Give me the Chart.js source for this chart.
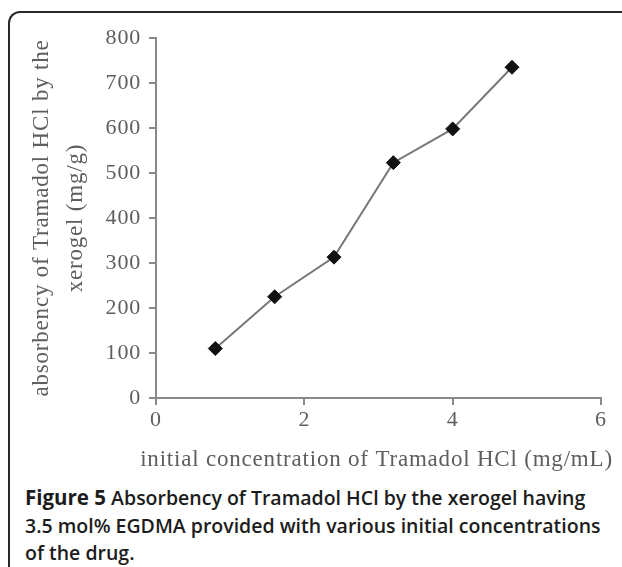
<!DOCTYPE html>
<html>
<head>
<meta charset="utf-8">
<script src="https://cdn.jsdelivr.net/npm/chart.js@4/dist/chart.umd.min.js"></script>
<style>
  html, body { margin: 0; padding: 0; background: #fff; width: 622px; height: 567px; overflow: hidden; }
  #frame { position: absolute; left: 8px; top: 11px; width: 700px; height: 700px; border-left: 2px solid #2a2a2a; border-top: 2px solid #2a2a2a; border-top-left-radius: 12px; box-sizing: border-box; }
  #wrap { position: absolute; left: 0; top: 0; width: 622px; height: 473px; }
  #caption { position: absolute; left: 25px; top: 484px; width: 597px; white-space: nowrap; font-family: "Open Sans", sans-serif; font-size: 19.5px; line-height: 27.5px; color: #1c1c1c; font-weight: 600; }
  #caption b { font-weight: 700; font-size: 20.5px; }
</style>
</head>
<body>
<div id="frame"></div>
<div id="wrap"><canvas id="c"></canvas></div>
<div id="caption"><b>Figure 5</b> Absorbency of Tramadol HCl by the xerogel having<br>3.5 mol% EGDMA provided with various initial concentrations<br>of the drug.</div>
<script>
const concentrations = [0.8, 1.6, 2.4, 3.2, 4.0, 4.8];
const absorbency = [110, 225, 313, 523, 598, 735];
const xTitle = "initial concentration of Tramadol HCl (mg/mL)";
const yTitle = ["absorbency of Tramadol HCl by the", "xerogel (mg/g)"];

const points = concentrations.map((x, i) => ({ x: x, y: absorbency[i] }));
const grey = "#8a8a8a";
const textGrey = "#5e5e5e";

const spacing = {
  id: "spacing",
  beforeUpdate(chart) { chart.ctx.letterSpacing = "0.8px"; },
  beforeDraw(chart) { chart.ctx.letterSpacing = "0.8px"; },
  afterDraw(chart) {
    const ctx = chart.ctx;
    const xs = chart.scales.x;
    ctx.save();
    ctx.letterSpacing = "0.8px";
    ctx.font = '23px "Liberation Serif"';
    ctx.fillStyle = textGrey;
    ctx.textAlign = "center";
    ctx.textBaseline = "middle";
    ctx.fillText(xTitle, (xs.left + xs.right) / 2 - 2, xs.bottom - 13);
    ctx.restore();
  }
};

new Chart(document.getElementById("c"), {
  type: "scatter",
  plugins: [spacing],
  data: {
    datasets: [{
      data: points,
      showLine: true,
      borderColor: "#777",
      borderWidth: 2,
      pointStyle: "rectRot",
      pointRadius: 7,
      pointHoverRadius: 7,
      pointBackgroundColor: "#111",
      pointBorderColor: "#111",
      pointBorderWidth: 1
    }]
  },
  options: {
    responsive: true,
    maintainAspectRatio: false,
    animation: false,
    plugins: { legend: { display: false }, tooltip: { enabled: false } },
    layout: { padding: { left: 0, top: 38, right: 21, bottom: 0 } },
    scales: {
      x: {
        type: "linear",
        min: 0, max: 6,
        ticks: { stepSize: 2, color: textGrey, font: { family: "Liberation Serif", size: 22 }, padding: 2 },
        grid: { drawOnChartArea: false, color: grey, lineWidth: 2, tickLength: 7 },
        border: { color: grey, width: 2 },
        title: { display: false, text: xTitle },
        afterFit: s => { s.height = 75; }
      },
      y: {
        min: 0, max: 800,
        ticks: { stepSize: 100, color: textGrey, font: { family: "Liberation Serif", size: 22 }, padding: 8 },
        grid: { drawOnChartArea: false, color: grey, lineWidth: 2, tickLength: 7 },
        border: { color: grey, width: 2 },
        title: { display: true, text: yTitle, color: textGrey, font: { family: "Liberation Serif", size: 23, lineHeight: "34px" }, padding: { top: 25, bottom: 0 } },
        afterFit: s => { s.width = 156; }
      }
    }
  }
});
</script>
</body>
</html>
